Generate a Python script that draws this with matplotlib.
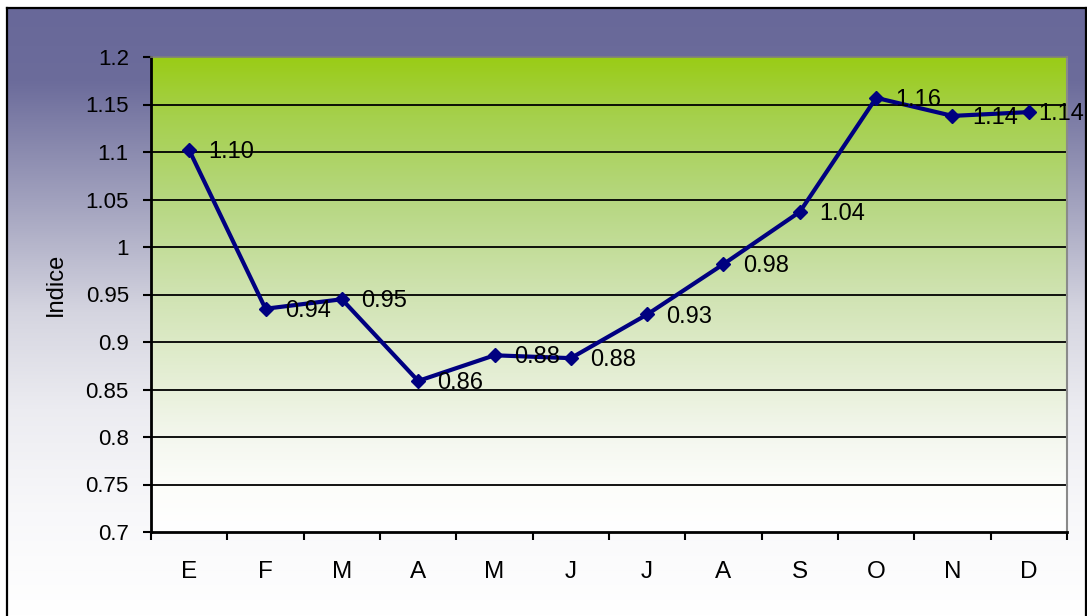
import numpy as np
import matplotlib
matplotlib.use("Agg")
import matplotlib.pyplot as plt
from matplotlib.colors import LinearSegmentedColormap
from matplotlib.ticker import FixedLocator

plt.rcParams['font.family'] = ['Liberation Sans', 'DejaVu Sans']

# data
months = ['E', 'F', 'M', 'A', 'M', 'J', 'J', 'A', 'S', 'O', 'N', 'D']
indice = [1.102, 0.935, 0.945, 0.859, 0.886, 0.883, 0.929, 0.982, 1.037, 1.157, 1.138, 1.142]
labels = ['1.10', '0.94', '0.95', '0.86', '0.88', '0.88', '0.93', '0.98', '1.04', '1.16', '1.14', '1.14']
yticks = [0.7, 0.75, 0.8, 0.85, 0.9, 0.95, 1.0, 1.05, 1.1, 1.15, 1.2]
ytick_labels = ['0.7', '0.75', '0.8', '0.85', '0.9', '0.95', '1', '1.05', '1.1', '1.15', '1.2']

W, H = 1087, 616
fig = plt.figure(figsize=(W / 100, H / 100), dpi=100)
fig.patch.set_facecolor('white')

# chart area background: purple at top fading to white
bg_cmap = LinearSegmentedColormap.from_list('bg', [
    (0.0, (104/255, 104/255, 153/255)),
    (0.12, (108/255, 108/255, 155/255)),
    (0.33, (165/255, 165/255, 192/255)),
    (0.50, (213/255, 213/255, 224/255)),
    (0.66, (236/255, 236/255, 241/255)),
    (0.83, (248/255, 248/255, 250/255)),
    (1.0, (1, 1, 1)),
])
bg = fig.add_axes([7 / W, 0, (1086 - 7) / W, (H - 8) / H])
bg.imshow(np.linspace(0, 1, 256).reshape(-1, 1), cmap=bg_cmap, aspect='auto',
          extent=[0, 1, 0, 1], origin='upper')
bg.set_xlim(0, 1)
bg.set_ylim(0, 1)
bg.set_xticks([])
bg.set_yticks([])
for side in ['left', 'right', 'top']:
    bg.spines[side].set_color('black')
    bg.spines[side].set_linewidth(1.6)
bg.spines['bottom'].set_visible(False)

# plot area
ax = fig.add_axes([151 / W, (H - 532) / H, 916 / W, 475 / H])
plot_cmap = LinearSegmentedColormap.from_list('plot', [
    (0.0, (154/255, 204/255, 22/255)),
    (0.12, (165/255, 208/255, 75/255)),
    (0.30, (182/255, 215/255, 128/255)),
    (0.50, (208/255, 227/255, 178/255)),
    (0.65, (226/255, 237/255, 208/255)),
    (0.80, (244/255, 247/255, 238/255)),
    (0.90, (252/255, 253/255, 250/255)),
    (1.0, (1, 1, 1)),
])
x = np.arange(len(months))
ax.imshow(np.linspace(0, 1, 256).reshape(-1, 1), cmap=plot_cmap, aspect='auto',
          extent=[-0.5, len(months) - 0.5, 0.7, 1.2], origin='upper', zorder=0)

for yv in yticks[1:-1]:
    ax.axhline(yv, color='black', lw=1.3, zorder=1)

ax.plot(x, indice, color='#000080', lw=3, marker='D', ms=7.5, zorder=3)

for i, (xi, yi, lab) in enumerate(zip(x, indice, labels)):
    # the last label is pulled in so it stays inside the chart
    dx = 7 if i == len(x) - 1 else 14
    ax.annotate(lab, (xi, yi), xytext=(dx, -1.5), textcoords='offset points',
                ha='left', va='center', fontsize=17, color='black', zorder=4)

ax.set_xlim(-0.5, len(months) - 0.5)
ax.set_ylim(0.7, 1.2)
ax.set_xticks(x)
ax.set_xticklabels(months, fontsize=17.5)
ax.xaxis.set_minor_locator(FixedLocator(np.arange(-0.5, len(months), 1.0)))
ax.tick_params(axis='x', which='major', length=0, pad=21)
ax.tick_params(axis='x', which='minor', length=6, width=1.5, color='black', direction='out')
ax.set_yticks(yticks)
ax.set_yticklabels(ytick_labels, fontsize=16)
ax.tick_params(axis='y', length=6, width=1.5, color='black', pad=10)

ax.spines['left'].set_color('black')
ax.spines['left'].set_linewidth(2)
ax.spines['bottom'].set_color('black')
ax.spines['bottom'].set_linewidth(2)
ax.spines['top'].set_color('#7f7f7f')
ax.spines['top'].set_linewidth(1.2)
ax.spines['right'].set_color('#8a8a8a')
ax.spines['right'].set_linewidth(1.5)

fig.text(56 / W, 1 - 284 / H, 'Indice', rotation=90, ha='center', va='center', fontsize=17)

fig.savefig('out.png', dpi=100)
